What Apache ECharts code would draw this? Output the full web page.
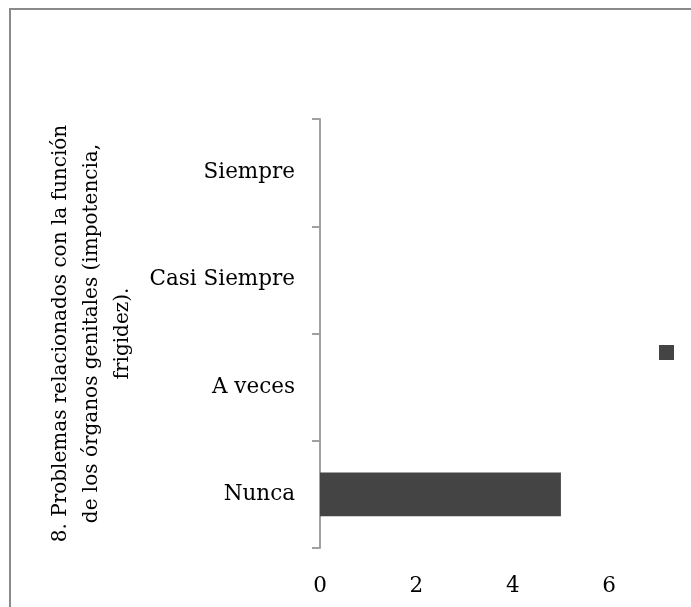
<!DOCTYPE html>
<html><head><meta charset="utf-8">
<script src="https://cdn.jsdelivr.net/npm/echarts@6/dist/echarts.min.js"></script>
<style>html,body{margin:0;padding:0;background:#fff}#c{width:691px;height:607px}</style>
</head><body><div id="c"></div>
<script>
const categories = ['Nunca', 'A veces', 'Casi Siempre', 'Siempre'];
const values = [5, 0, 0, 0];
const seriesName = ' ';
const axisTitle = '8. Problemas relacionados con la función\nde los órganos genitales (impotencia,\nfrigidez).';
const FONT = 'DejaVu Serif';
const chart = echarts.init(document.getElementById('c'));
chart.setOption({
  animation: false,
  backgroundColor: '#fff',
  graphic: [{type:'rect', shape:{x:10,y:9,width:720,height:700}, style:{fill:'none', stroke:'#8a8a8a', lineWidth:2}, silent:true}],
  legend: {data:[seriesName], left:654, top:340, itemWidth:15, itemHeight:15, icon:'rect', itemGap:0, textStyle:{fontSize:1}},
  grid: {left:320, top:119, bottom:59, right:0, containLabel:false},
  xAxis: {type:'value', min:0, max:7.7, interval:2,
    axisLine:{show:false}, axisTick:{show:false}, splitLine:{show:false},
    axisLabel:{fontFamily:FONT, fontSize:21.5, color:'#000', margin:27, showMaxLabel:false}},
  yAxis: {type:'category', data:categories,
    axisLine:{show:true, lineStyle:{color:'#a0a0a0', width:2}},
    axisTick:{show:true, length:8, lineStyle:{color:'#a0a0a0', width:2}},
    axisLabel:{fontFamily:FONT, fontSize:21.5, color:'#000', margin:25},
    name: axisTitle, nameLocation:'middle', nameRotate:90, nameGap:118,
    nameTextStyle:{fontFamily:FONT, fontSize:20, color:'#000', lineHeight:31, align:'center'}},
  series: [{name:seriesName, type:'bar', data:values, barWidth:'41%', itemStyle:{color:'#444444'}}]
});
</script></body></html>
